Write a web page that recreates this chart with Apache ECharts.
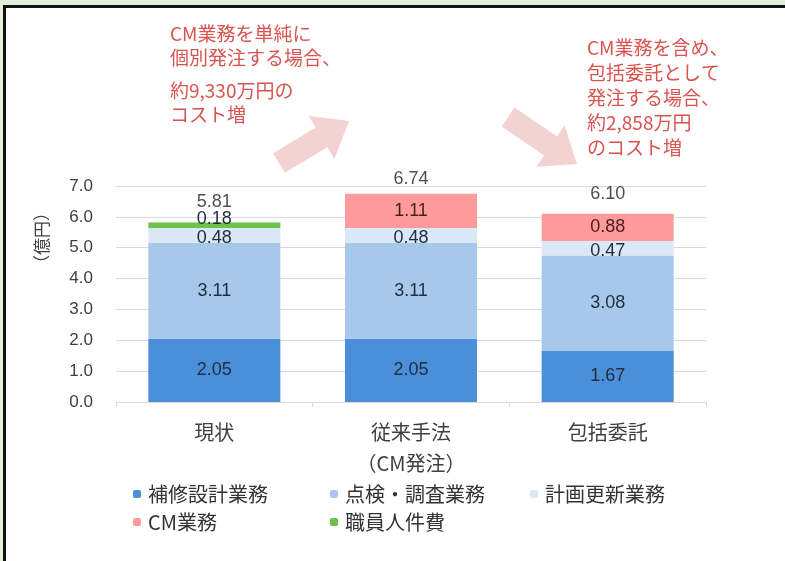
<!DOCTYPE html>
<html>
<head>
<meta charset="utf-8">
<script src="https://cdn.jsdelivr.net/npm/echarts@6/dist/echarts.min.js"></script>
<style>
  html, body { margin: 0; padding: 0; background: #e2efd9; }
  #frame {
    position: absolute; left: 3px; top: 5px; width: 800px; height: 600px;
    background: #fff; border-left: 3px solid #111; border-top: 3px solid #111;
  }
  #main { position: absolute; left: 0; top: 0; width: 785px; height: 561px; }
</style>
</head>
<body>
<div id="frame"></div>
<div id="main"></div>
<script>
// カテゴリ
var categories = ['現状', '従来手法\n（CM発注）', '包括委託'];
// 系列（億円）
var hoshuSekkei = [2.05, 2.05, 1.67];
var tenkenChosa = [3.11, 3.11, 3.08];
var keikakuKoshin = [0.48, 0.48, 0.47];
var cmGyomu = [null, 1.11, 0.88];
var shokuinJinkenhi = [0.18, null, null];
var totals = [5.81, 6.74, 6.10];
var yTicks = [0, 7, 1];  // min, max, interval

var numFont = "'Liberation Sans', 'Noto Sans CJK JP', sans-serif";
var jpFont = "'Noto Sans CJK JP', sans-serif";

var chart = echarts.init(document.getElementById('main'));

function barSeries(name, data, color, labelColor){
    return {
        name: name,
        type: 'bar',
        stack: 'total',
        barWidth: 132,
        data: data,
        itemStyle: { color: color },
        label: {
            show: true,
            position: 'inside',
            color: labelColor,
            fontFamily: numFont,
            fontSize: 18,
            formatter: function(p){ return p.value.toFixed(2); }
        }
    };
}

var greenSeries = barSeries('職員人件費', shokuinJinkenhi, '#6cc24a', '#1f2d3d');
greenSeries.label.offset = [0, -6];
var lightSeries = barSeries('計画更新業務', keikakuKoshin, '#dbe8f6', '#1f2d3d');
lightSeries.label.offset = [0, 3];

var totalOffsets = [[0, -21], [0, -15], [0, -20]];

function legendCol(left, names){
    return {
        orient: 'vertical', left: left, top: 479, itemWidth: 8, itemHeight: 8, itemGap: 8,
        data: names,
        textStyle: { fontSize: 20, color: '#333', fontFamily: jpFont, padding: [0, 0, 0, 2] }
    };
}

var option = {
    backgroundColor: 'transparent',
    animation: false,
    grid: { left: 116, right: 79, top: 186, bottom: 159 },
    xAxis: {
        type: 'category',
        data: categories,
        axisLine: { lineStyle: { color: '#d9d9d9' } },
        axisTick: { show: true, length: 5, lineStyle: { color: '#d9d9d9' } },
        axisLabel: {
            color: '#404040', fontSize: 20, fontFamily: jpFont,
            margin: 15, lineHeight: 31
        }
    },
    yAxis: {
        type: 'value',
        min: yTicks[0], max: yTicks[1], interval: yTicks[2],
        axisLine: { show: false },
        axisTick: { show: false },
        splitLine: { lineStyle: { color: '#d9d9d9' } },
        axisLabel: {
            color: '#404040', fontSize: 17, fontFamily: numFont, margin: 23,
            formatter: function(v){ return v.toFixed(1); }
        }
    },
    legend: [
        legendCol(128, ['補修設計業務', 'CM業務']),
        legendCol(325, ['点検・調査業務', '職員人件費']),
        legendCol(525, ['計画更新業務'])
    ],
    graphic: [
        // 縦軸タイトル
        {
            type: 'text', x: 42, y: 238, rotation: Math.PI / 2,
            style: { text: '（億円）', fontSize: 17, fill: '#404040', fontFamily: jpFont,
                     textAlign: 'center', textVerticalAlign: 'middle' }
        },
        // 矢印（左）
        {
            type: 'polygon', z: 0,
            shape: { points: arrowPoints(279, 163, 349, 121, 23, 50, 32) },
            style: { fill: '#f3d3d1' }
        },
        // 矢印（右）
        {
            type: 'polygon', z: 0,
            shape: { points: arrowPoints(508, 117, 577, 164, 23, 50, 32) },
            style: { fill: '#f3d3d1' }
        },
        {
            type: 'text', left: 170, top: 22,
            style: { text: 'CM業務を単純に\n個別発注する場合、', fontSize: 19, lineHeight: 24,
                     fill: '#d9534f', fontFamily: jpFont }
        },
        {
            type: 'text', left: 170, top: 79,
            style: { text: '約9,330万円の\nコスト増', fontSize: 19, lineHeight: 24,
                     fill: '#d9534f', fontFamily: jpFont }
        },
        {
            type: 'text', left: 587, top: 35,
            style: { text: 'CM業務を含め、\n包括委託として\n発注する場合、\n約2,858万円\nのコスト増',
                     fontSize: 19, lineHeight: 25, fill: '#d9534f', fontFamily: jpFont }
        }
    ],
    series: [
        barSeries('補修設計業務', hoshuSekkei, '#4a8fd8', '#1f2d3d'),
        barSeries('点検・調査業務', tenkenChosa, '#a6c8eb', '#1f2d3d'),
        lightSeries,
        barSeries('CM業務', cmGyomu, '#ff9b9b', '#4a1c1c'),
        greenSeries,
        {
            name: '合計',
            type: 'scatter',
            symbolSize: 0,
            data: totals.map(function(v, i){
                return { value: v, label: { offset: totalOffsets[i] } };
            }),
            label: {
                show: true, position: 'inside', color: '#1f1f1f',
                fontFamily: numFont, fontSize: 18,
                formatter: function(p){ return p.value.toFixed(2); }
            },
            z: 5
        }
    ]
};

// 矢印の頂点を計算
function arrowPoints(x1, y1, x2, y2, shaftW, headW, headL){
    var dx = x2 - x1, dy = y2 - y1;
    var len = Math.sqrt(dx * dx + dy * dy);
    var ux = dx / len, uy = dy / len;
    var nx = -uy, ny = ux;
    var bx = x2 - ux * headL, by = y2 - uy * headL;
    var s = shaftW / 2, h = headW / 2;
    return [
        [x1 + nx * s, y1 + ny * s],
        [bx + nx * s, by + ny * s],
        [bx + nx * h, by + ny * h],
        [x2, y2],
        [bx - nx * h, by - ny * h],
        [bx - nx * s, by - ny * s],
        [x1 - nx * s, y1 - ny * s]
    ];
}

chart.setOption(option);
</script>
</body>
</html>
